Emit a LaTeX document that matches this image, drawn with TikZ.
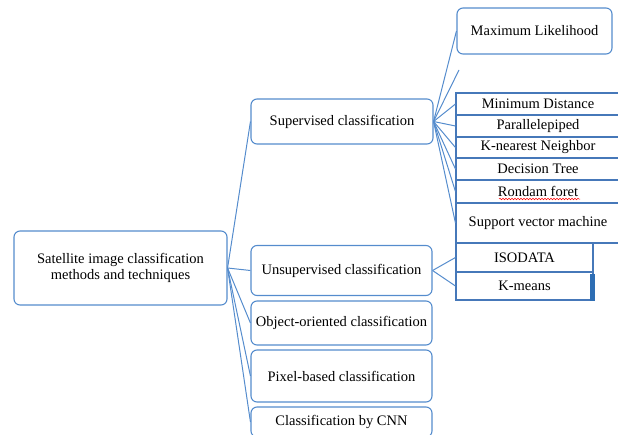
\documentclass[tikz,border=0pt]{standalone}
\usepackage{fontspec}
\setmainfont{Liberation Serif}
\newfontfamily\tnr{Liberation Serif}
\usetikzlibrary{decorations.pathmorphing,calc}
\definecolor{bline}{RGB}{85,140,205}
\definecolor{bcell}{RGB}{70,120,185}
\definecolor{bbar}{RGB}{46,110,180}
\begin{document}
\begin{tikzpicture}[x=1pt,y=-1pt,
  txt/.style={font=\tnr\fontsize{14.5}{16}\selectfont, align=center, inner sep=0pt},
  rbox/.style={txt, draw=bline, line width=1.1pt, rounded corners=6pt},
  cell/.style={txt, draw=bcell, line width=1.1pt},
  conn/.style={draw=bline, line width=1pt}]
\useasboundingbox (0,0) rectangle (618,434);
\clip (0,0) rectangle (618,434);
% level 0
\node[rbox, minimum width=213pt, minimum height=74pt] (root) at (120.5,268) {Satellite image classification\\methods and techniques};
% level 1
\node[rbox, minimum width=182pt, minimum height=45pt] (sup) at (342,121.5) {Supervised classification};
\node[rbox, minimum width=181pt, minimum height=50pt] (uns) at (341.5,270.5) {Unsupervised classification};
\node[rbox, minimum width=181pt, minimum height=44pt] (obj) at (341.5,323) {Object-oriented classification};
\node[rbox, minimum width=181pt, minimum height=52pt] (pix) at (341.5,376) {Pixel-based classification};
\node[rbox, minimum width=181pt, minimum height=30pt] (cnn) at (341.5,422) {Classification by CNN};
% level 2
\node[rbox, minimum width=155pt, minimum height=46pt] (ml) at (534.5,31) {Maximum Likelihood};
\coordinate (empty) at (459,70);
\node[cell, minimum width=164pt, minimum height=22pt] (md) at (538,104) {Minimum Distance};
\node[cell, minimum width=164pt, minimum height=22pt] (pp) at (538,126) {Parallelepiped};
\node[cell, minimum width=164pt, minimum height=21pt] (kn) at (538,147.5) {K-nearest Neighbor};
\node[cell, minimum width=164pt, minimum height=22pt] (dt) at (538,169) {Decision Tree};
\node[cell, minimum width=164pt, minimum height=23pt] (rf) at (538,191.5) {Rondam foret};
\node[cell, minimum width=164pt, minimum height=40pt] (svm) at (538,223) {Support vector machine};
\node[cell, minimum width=137pt, minimum height=29pt] (iso) at (524.5,257.5) {ISODATA};
\node[cell, minimum width=137pt, minimum height=28pt] (km) at (524.5,286) {K-means};
\fill[bbar] ($(km.north east)+(-4,3)$) rectangle ($(km.south east)+(1,0)$);
% spell-check underline
\draw[red, line width=0.5pt, decorate, decoration={snake, amplitude=0.8pt, segment length=3pt}] (499,199) -- (580,199);
% connectors
\foreach \t in {sup,uns,obj,pix,cnn} \draw[conn] (root.east) -- (\t.west);
\foreach \t in {ml,md,pp,kn,dt,rf,svm} \draw[conn] (sup.east) -- (\t.west);
\draw[conn] (sup.east) -- (empty);
\foreach \t in {iso,km} \draw[conn] (uns.east) -- (\t.west);
\end{tikzpicture}
\end{document}
